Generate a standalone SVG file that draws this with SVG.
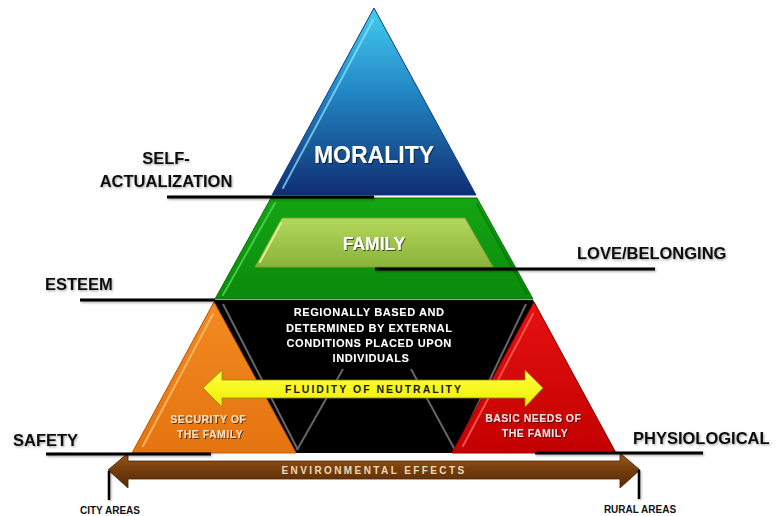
<svg xmlns="http://www.w3.org/2000/svg" width="784" height="516" viewBox="0 0 784 516">
<defs>
<linearGradient id="gBlue" x1="0" y1="0" x2="0" y2="1">
<stop offset="0" stop-color="#44cdf0"/><stop offset="0.45" stop-color="#2286c4"/><stop offset="1" stop-color="#0f2e72"/>
</linearGradient>
<linearGradient id="gGreen" x1="0" y1="0" x2="0" y2="1">
<stop offset="0" stop-color="#14a514"/><stop offset="1" stop-color="#0b8a0b"/>
</linearGradient>
<linearGradient id="gFam" x1="0" y1="0" x2="0" y2="1">
<stop offset="0" stop-color="#b3d85c"/><stop offset="1" stop-color="#8bb23a"/>
</linearGradient>
<linearGradient id="gOrange" x1="0" y1="0" x2="0" y2="1">
<stop offset="0" stop-color="#f38a22"/><stop offset="1" stop-color="#e47410"/>
</linearGradient>
<linearGradient id="gRed" x1="0" y1="0" x2="0" y2="1">
<stop offset="0" stop-color="#e51212"/><stop offset="1" stop-color="#c40000"/>
</linearGradient>
<linearGradient id="gBrown" x1="0" y1="0" x2="0" y2="1">
<stop offset="0" stop-color="#9a5a1e"/><stop offset="0.5" stop-color="#733c0c"/><stop offset="1" stop-color="#552a05"/>
</linearGradient>
<linearGradient id="gYellow" x1="0" y1="0" x2="0" y2="1">
<stop offset="0" stop-color="#ffff40"/><stop offset="1" stop-color="#eeee00"/>
</linearGradient>
<filter id="sh" x="-10%" y="-30%" width="120%" height="160%">
<feDropShadow dx="1" dy="1" stdDeviation="0.7" flood-color="#000" flood-opacity="0.6"/>
</filter>
<filter id="shl" x="-10%" y="-30%" width="120%" height="160%">
<feDropShadow dx="1" dy="1.2" stdDeviation="0.8" flood-color="#000" flood-opacity="0.35"/>
</filter>
<filter id="shu" filterUnits="userSpaceOnUse" x="0" y="0" width="784" height="516">
<feDropShadow dx="1" dy="1.2" stdDeviation="0.8" flood-color="#000" flood-opacity="0.35"/>
</filter>
</defs>
<style>
.lab{font-family:"Liberation Sans",Arial,sans-serif;font-weight:bold;font-size:16.5px;fill:#111;filter:url(#shl)}
.wt{font-family:"Liberation Sans",Arial,sans-serif;font-weight:bold;fill:#fff;filter:url(#sh)}
.sm{font-family:"Liberation Sans",Arial,sans-serif;font-weight:bold;font-size:10px;fill:#111;text-anchor:middle}
.ptr{stroke:#000;stroke-width:3;fill:none}
.edge{stroke:#666;stroke-width:2;fill:none}
.hl{fill:none;stroke-width:2;stroke-linecap:round}
</style>

<g id="node-morality">
<polygon points="374,8 272,195 476,195" fill="url(#gBlue)" stroke="#0c3a80" stroke-width="1"/>
<polyline class="hl" points="373,20 283,188" stroke="#8fe6ff" opacity="0.7"/>
<text class="wt" x="374" y="163" font-size="23" text-anchor="middle">MORALITY</text>
</g>

<g id="node-green-band">
<polygon points="271,198 477,198 533,299 215,299" fill="url(#gGreen)" stroke="#0a700a" stroke-width="1"/>
<polyline class="hl" points="275,203 223,295" stroke="#55d455" opacity="0.8"/>
<polyline class="hl" points="477,204 527,294" stroke="#0a6a0a" opacity="0.6"/>
</g>

<g id="node-family">
<polygon points="282,218 465,218 493,267 255,267" fill="url(#gFam)" stroke="#7ea032" stroke-width="1"/>
<polyline class="hl" points="281,223 260,262" stroke="#eaffa0" opacity="0.8"/>
<text class="wt" x="374" y="250" font-size="17.5" text-anchor="middle">FAMILY</text>
</g>

<g id="node-regional">
<polygon points="215,300 533,300 616,453 132,453" fill="#000"/>
<line class="edge" x1="223" y1="304" x2="298" y2="450"/>
<line class="edge" x1="343" y1="369" x2="297" y2="450"/>
<line class="edge" x1="411" y1="369" x2="455" y2="450"/>
<line class="edge" x1="526" y1="304" x2="456" y2="450"/>
<text class="wt" font-size="11" letter-spacing="0.6" text-anchor="middle">
<tspan x="371" y="316">REGIONALLY BASED AND</tspan>
<tspan x="371" y="332">DETERMINED BY EXTERNAL</tspan>
<tspan x="371" y="347">CONDITIONS PLACED UPON</tspan>
<tspan x="371" y="362">INDIVIDUALS</tspan>
</text>
</g>

<g id="node-security">
<polygon points="214,302 132,453 296,453" fill="url(#gOrange)" stroke="#c85c00" stroke-width="1"/>
<polyline class="hl" points="213,314 143,446" stroke="#ffc070" opacity="0.8"/>
<text font-family="Liberation Sans, Arial, sans-serif" font-weight="bold" font-size="10.5" letter-spacing="0.5" fill="#fde3c4" text-anchor="middle" filter="url(#sh)">
<tspan x="210" y="423">SECURITY OF</tspan>
<tspan x="210" y="438">THE FAMILY</tspan>
</text>
</g>

<g id="node-basic">
<polygon points="534,302 452,453 616,453" fill="url(#gRed)" stroke="#a00000" stroke-width="1"/>
<polyline class="hl" points="533,314 463,446" stroke="#ff6060" opacity="0.8"/>
<text font-family="Liberation Sans, Arial, sans-serif" font-weight="bold" font-size="10.5" letter-spacing="0.5" fill="#fde0e0" text-anchor="middle" filter="url(#sh)">
<tspan x="535" y="422">BASIC NEEDS OF</tspan>
<tspan x="535" y="437">THE FAMILY</tspan>
</text>
</g>

<g id="node-fluidity">
<polygon points="203,388 222,370 222,380 525,380 525,370 543,388 525,407 525,398 222,398 222,407" fill="url(#gYellow)" stroke="#8a8a00" stroke-width="0.8"/>
<text x="374" y="392.5" font-family="Liberation Sans, Arial, sans-serif" font-weight="bold" font-size="10.5" letter-spacing="2" fill="#1a1a00" text-anchor="middle">FLUIDITY OF NEUTRALITY</text>
</g>

<g id="node-environmental">
<polygon points="108,470 128,453 128,461 620,461 620,453 640,470 620,488 620,479 128,479 128,488" fill="url(#gBrown)" stroke="#4a2404" stroke-width="0.8"/>
<text x="374" y="474" font-family="Liberation Sans, Arial, sans-serif" font-weight="bold" font-size="10" letter-spacing="2.4" fill="#ecd9b8" text-anchor="middle">ENVIRONMENTAL EFFECTS</text>
</g>

<g id="connectors" filter="url(#shu)">
<line class="ptr" x1="167" y1="197" x2="374" y2="197"/>
<line class="ptr" x1="375" y1="269" x2="655" y2="269"/>
<line class="ptr" x1="80" y1="300" x2="215" y2="300"/>
<line class="ptr" x1="46" y1="454" x2="211" y2="454"/>
<line class="ptr" x1="535" y1="453" x2="703" y2="453"/>
<line stroke="#000" stroke-width="2.5" x1="109" y1="471" x2="109" y2="500"/>
<line stroke="#000" stroke-width="2.5" x1="639" y1="470" x2="639" y2="499"/>
</g>

<g id="labels">
<text class="lab" text-anchor="middle"><tspan x="166" y="164">SELF-</tspan><tspan x="166" y="187">ACTUALIZATION</tspan></text>
<text class="lab" x="45" y="290">ESTEEM</text>
<text class="lab" x="577" y="259">LOVE/BELONGING</text>
<text class="lab" x="13" y="446">SAFETY</text>
<text class="lab" x="633" y="444">PHYSIOLOGICAL</text>
<text class="sm" x="110" y="514">CITY AREAS</text>
<text class="sm" x="640" y="513">RURAL AREAS</text>
</g>
</svg>
